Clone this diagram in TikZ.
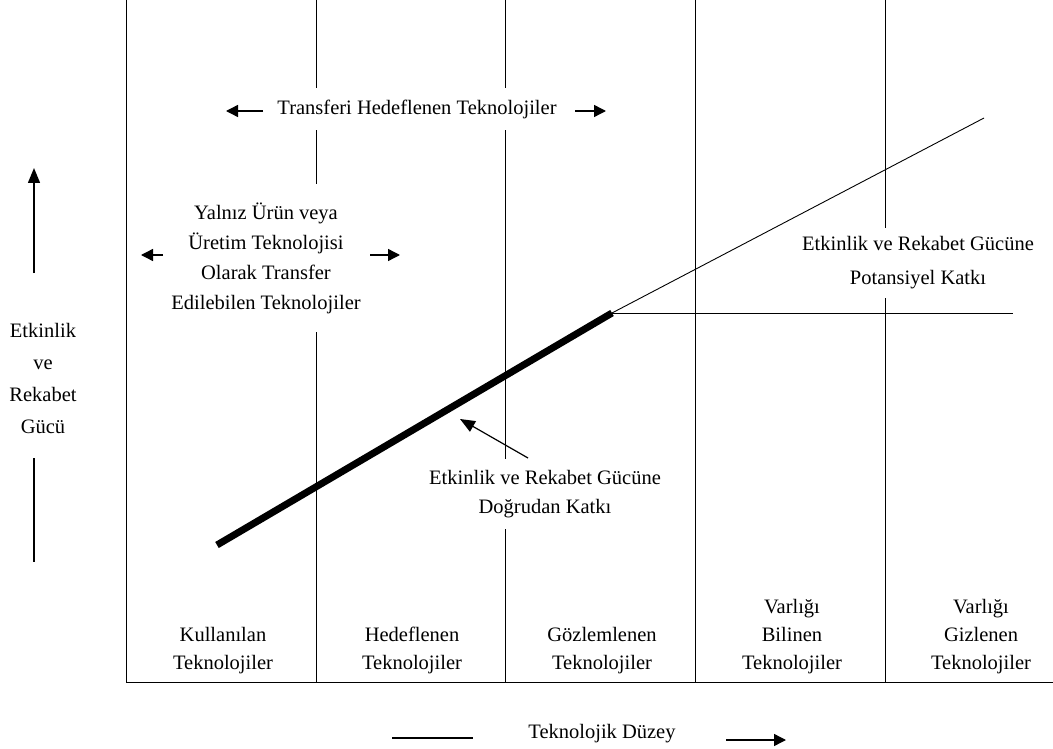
\documentclass[tikz,border=0pt]{standalone}
\usepackage{fontspec}
\setmainfont{Liberation Serif}
\usetikzlibrary{arrows.meta}
\begin{document}
\begin{tikzpicture}[x=1pt,y=-1pt,
  grid/.style={line width=0.9pt,draw=black},
  lbl/.style={font=\fontsize{20.5}{29}\selectfont, align=center, inner xsep=2pt},
  wlbl/.style={lbl, fill=white},
  harrow/.style={line width=1.4pt, -{Triangle[length=12pt,width=12pt]}},
  varrow/.style={line width=1.4pt, -{Triangle[length=15pt,width=12pt]}},
]
\useasboundingbox (0,0) rectangle (1053,749);

% frame and column dividers
\coordinate (tl) at (126,0);
\coordinate (bl) at (126,682);
\coordinate (br) at (1053,682);
\draw[grid] (tl) -- (bl) -- (br);
\foreach \x [count=\i] in {316,505,695,885} {
  \coordinate (t\i) at (\x,0);
  \coordinate (b\i) at (\x,682);
  \draw[grid] (t\i) -- (b\i);
}

% contribution lines
\coordinate (s0) at (217,545);
\coordinate (s1) at (612,313);
\coordinate (s2) at (984,118);
\coordinate (h2) at (1013,313);
\draw[line width=7pt] (s0) -- (s1);
\draw[line width=0.9pt] (s1) -- (s2);
\draw[line width=0.9pt] (s1) -- (h2);

% transferi hedeflenen
\node[wlbl, inner ysep=12pt] (transfer) at (417,109) {Transferi Hedeflenen Teknolojiler};
\coordinate (ta0) at (263,111);
\coordinate (ta1) at (226,111);
\coordinate (tb0) at (575,111);
\coordinate (tb1) at (606,111);
\draw[harrow] (ta0) -- (ta1);
\draw[harrow] (tb0) -- (tb1);

% yalniz urun
\node[wlbl, inner ysep=19pt, font=\fontsize{20.5}{30}\selectfont] (yalniz) at (266,258)
  {Yalnız Ürün veya\\Üretim Teknolojisi\\Olarak Transfer\\Edilebilen Teknolojiler};
\coordinate (ya0) at (163,255);
\coordinate (ya1) at (141,255);
\coordinate (yb0) at (370,255);
\coordinate (yb1) at (400,255);
\draw[harrow] (ya0) -- (ya1);
\draw[harrow] (yb0) -- (yb1);

% y axis
\node[lbl, font=\fontsize{20.5}{32}\selectfont] (ylab) at (43,378) {Etkinlik\\ve\\Rekabet\\Gücü};
\coordinate (v0) at (34,273);
\coordinate (v1) at (34,168);
\coordinate (v2) at (34,458);
\coordinate (v3) at (34,562);
\draw[varrow] (v0) -- (v1);
\draw[line width=1.4pt] (v2) -- (v3);

% direct contribution
\node[wlbl, inner ysep=11pt] (direct) at (545,494) {Etkinlik ve Rekabet Gücüne\\Doğrudan Katkı};
\coordinate (p0) at (528,458);
\coordinate (p1) at (460,419);
\draw[line width=1.2pt, -{Triangle[length=15pt,width=12pt]}] (p0) -- (p1);

% potential contribution
\node[wlbl, inner ysep=9pt, font=\fontsize{20.5}{34}\selectfont] (potential) at (918,263)
  {Etkinlik ve Rekabet Gücüne\\Potansiyel Katkı};

% column labels
\node[lbl, anchor=south, inner ysep=0pt, font=\fontsize{20.5}{28}\selectfont] (c1) at (223,674) {Kullanılan\\Teknolojiler};
\node[lbl, anchor=south, inner ysep=0pt, font=\fontsize{20.5}{28}\selectfont] (c2) at (412,674) {Hedeflenen\\Teknolojiler};
\node[lbl, anchor=south, inner ysep=0pt, font=\fontsize{20.5}{28}\selectfont] (c3) at (602,674) {Gözlemlenen\\Teknolojiler};
\node[lbl, anchor=south, inner ysep=0pt, font=\fontsize{20.5}{28}\selectfont] (c4) at (792,674) {Varlığı\\Bilinen\\Teknolojiler};
\node[lbl, anchor=south, inner ysep=0pt, font=\fontsize{20.5}{28}\selectfont] (c5) at (981,674) {Varlığı\\Gizlenen\\Teknolojiler};

% x axis
\node[lbl] (xlab) at (602,734) {Teknolojik Düzey};
\coordinate (d0) at (392,738);
\coordinate (d1) at (473,738);
\coordinate (e0) at (726,740);
\coordinate (e1) at (786,740);
\draw[line width=1.4pt] (d0) -- (d1);
\draw[harrow] (e0) -- (e1);
\end{tikzpicture}
\end{document}
